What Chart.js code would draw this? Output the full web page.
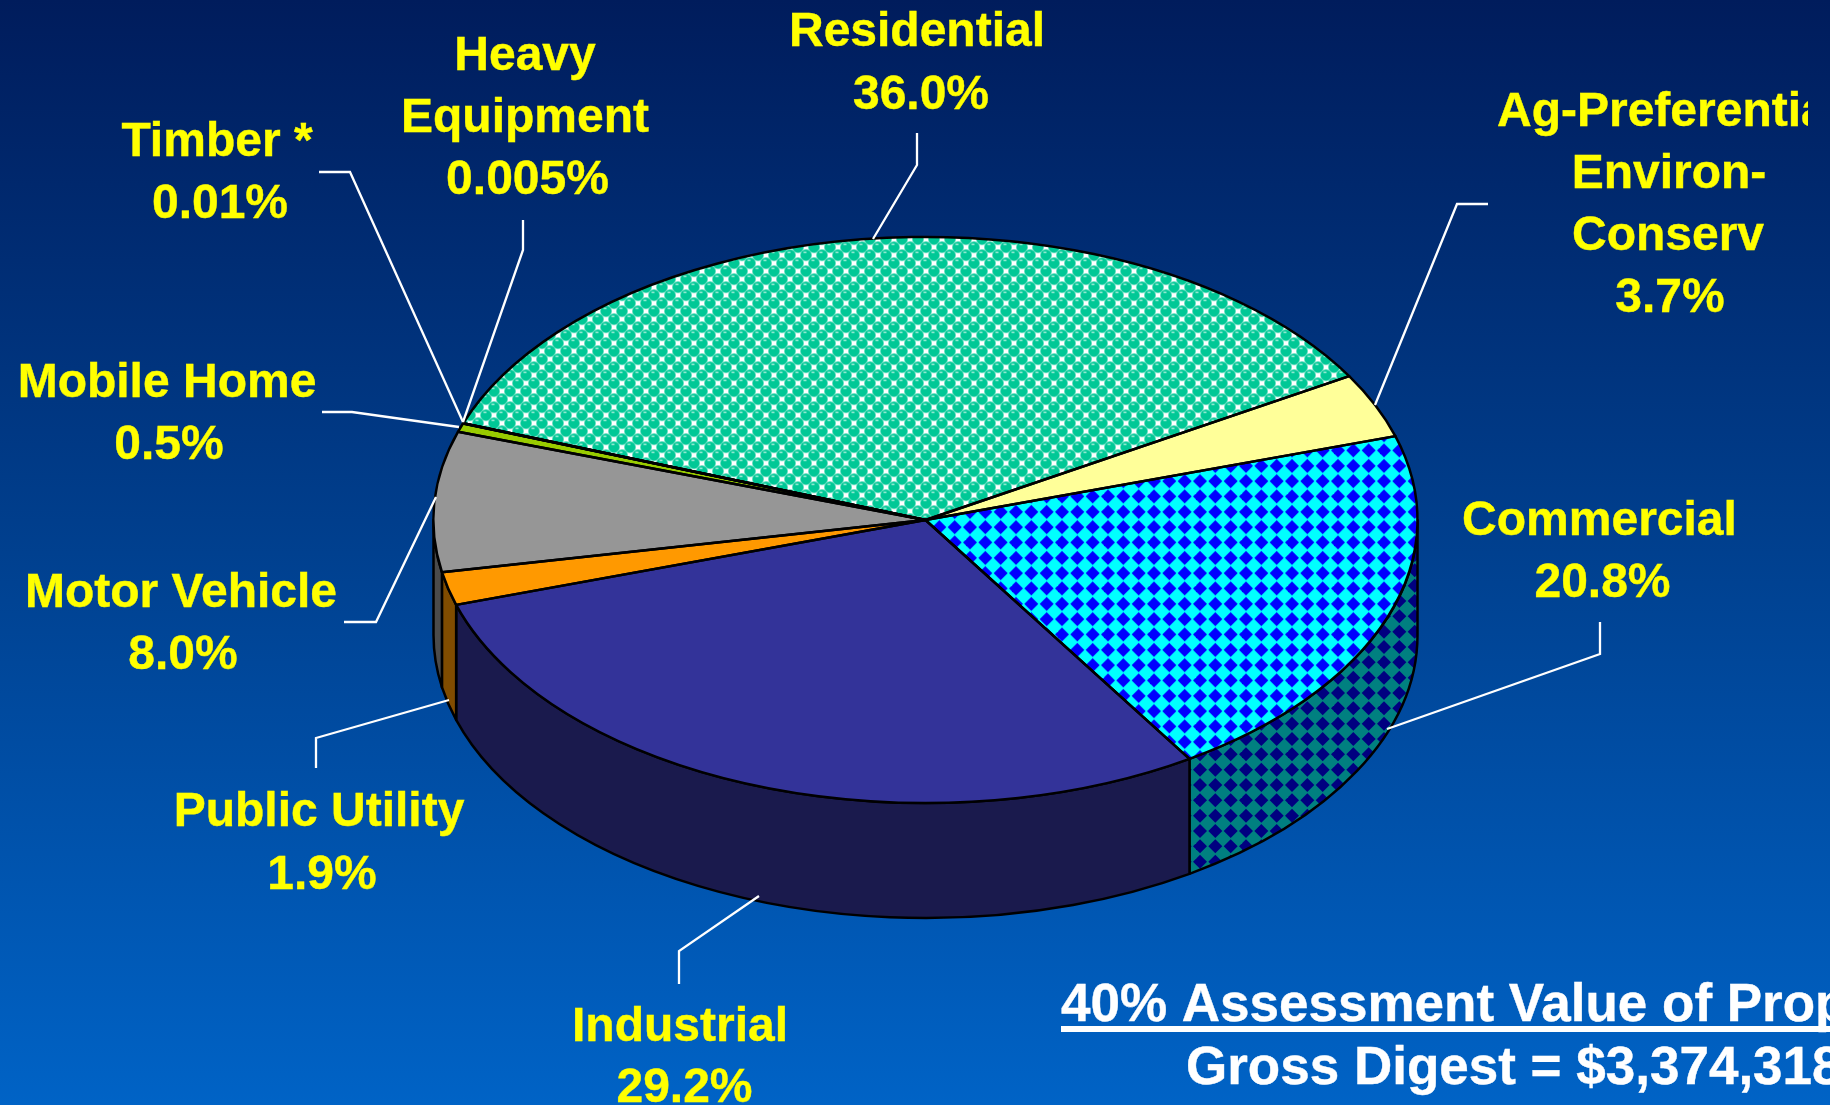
<!DOCTYPE html>
<html>
<head>
<meta charset="utf-8">
<style>html,body{margin:0;padding:0;background:#003f90}canvas{display:block}</style>
<script src="https://cdn.jsdelivr.net/npm/chart.js@4/dist/chart.umd.min.js"></script>
</head>
<body>
<canvas id="c" width="1830" height="1105"></canvas>
<script>
const categories = ['Residential','Ag-Preferential Environ-Conserv','Commercial','Industrial','Public Utility','Motor Vehicle','Mobile Home','Timber *','Heavy Equipment'];
const shareValues = [36.0,3.7,20.8,29.2,1.9,8.0,0.5,0.01,0.005];
const shareLabels = ['36.0%','3.7%','20.8%','29.2%','1.9%','8.0%','0.5%','0.01%','0.005%'];
const categoryLines = [['Residential'],['Ag-Preferential','Environ-','Conserv'],['Commercial'],['Industrial'],['Public Utility'],['Motor Vehicle'],['Mobile Home'],['Timber *'],['Heavy','Equipment']];
const footerTitle = '40% Assessment Value of Prop';
const footerDigest = 'Gross Digest = $3,374,318';

// layout
const W = 1830, H = 1105, CX = 925.5, CY = 520, RX = 492, RY = 283, DEPTH = 115, K = RY / RX;
const labelSpots = [
  [[917,45.5],[921,108.5]],
  [[null,125.5],[1669,187.5],[1668,249.5],[1670,311.5]],
  [[1599.5,534.5],[1602.5,596.5]],
  [[680,1040.5],[684.5,1101.5]],
  [[319,826],[322,889]],
  [[181,606.5],[183,668.5]],
  [[167,396.5],[169,458.5]],
  [[217,156],[220,218]],
  [[525,69.5],[525,131.5],[527.5,193.5]]
];
const leaderPaths = [
  [[917,133],[917,165],[873,239]],
  [[1488,204],[1457,204],[1375,405]],
  [[1600,622],[1600,654],[1387,729]],
  [[679,984],[679,951],[759,896]],
  [[316,768],[316,738],[449,700]],
  [[344,622],[376,622],[436,497]],
  [[322,412],[352,412],[459,427]],
  [[319,172],[350,172],[463,422]],
  [[523,220],[523,250],[463,422]]
];
const topColors = [null,'#FFFF99',null,'#333399','#FF9900','#969696','#99CC00','#6b6b6b','#808080'];
const wallColors = [null,'#80804c',null,'#1A1A4D','#804C00','#4B4B4B','#4c6600','#404040','#404040'];

function sphereTile(){
  const t = document.createElement('canvas'); t.width = 48; t.height = 48;
  const g = t.getContext('2d');
  g.fillStyle = '#ffffff'; g.fillRect(0,0,48,48);
  const p = 16;
  for (let r = -1; r < 8; r++) for (let c = -1; c < 5; c++) {
    const x = c*p + (r%2 ? p/2 : 0) + 6, y = r*p/2 + 5;
    g.fillStyle = '#66dec0'; g.beginPath(); g.arc(x,y,6.0,0,7); g.fill();
    g.fillStyle = '#00C896'; g.beginPath(); g.arc(x,y,5.2,0,7); g.fill();
    g.fillStyle = '#9cecd6'; g.fillRect(x-2.5,y-3.5,3,1.5);
  }
  return t;
}
function diamondTile(bg, fg){
  const t = document.createElement('canvas'); t.width = 46; t.height = 46;
  const g = t.getContext('2d');
  g.fillStyle = bg; g.fillRect(0,0,46,46);
  g.fillStyle = fg;
  const p = 46/3, d = 7.0;
  for (let r = -1; r < 5; r++) for (let c = -1; c < 5; c++) {
    const x = c*p + 4, y = r*p + 3;
    g.beginPath(); g.moveTo(x,y-d); g.lineTo(x+d,y); g.lineTo(x,y+d); g.lineTo(x-d,y); g.closePath(); g.fill();
  }
  return t;
}

const ctx = document.getElementById('c').getContext('2d');
const unsquash = new DOMMatrix().scale(1, 1/K);
const resTop = ctx.createPattern(sphereTile(),'repeat'); resTop.setTransform(unsquash);
const comTop = ctx.createPattern(diamondTile('#00FFFF','#0000FF'),'repeat'); comTop.setTransform(unsquash);
const comWall = ctx.createPattern(diamondTile('#008080','#000080'),'repeat');
const fills = topColors.slice(); fills[0] = resTop; fills[2] = comTop;
const wallFills = wallColors.slice(); wallFills[2] = comWall; wallFills[0] = '#007a5c';

const squashPie = {
  id:'squashPie',
  beforeDraw(chart){
    const c = chart.ctx, g = c.createLinearGradient(0,0,0,H);
    g.addColorStop(0,'#001C5C'); g.addColorStop(0.5,'#00408F'); g.addColorStop(1,'#0063C6');
    c.fillStyle = g; c.fillRect(0,0,W,H);
  },
  beforeDatasetsDraw(chart){
    const c = chart.ctx, arcs = chart.getDatasetMeta(0).data;
    c.lineWidth = 2.5; c.strokeStyle = '#000'; c.lineJoin = 'round';
    arcs.forEach((a,i)=>{
      const from = Math.max(a.startAngle,0), to = Math.min(a.endAngle,Math.PI);
      if (to <= from) return;
      c.beginPath();
      c.ellipse(CX,CY,a.outerRadius,a.outerRadius*K,0,from,to);
      c.lineTo(CX+a.outerRadius*Math.cos(to), CY+a.outerRadius*K*Math.sin(to)+DEPTH);
      c.ellipse(CX,CY+DEPTH,a.outerRadius,a.outerRadius*K,0,to,from,true);
      c.closePath();
      c.fillStyle = wallFills[i]; c.fill(); c.stroke();
    });
    const a0 = arcs[0];
    c.save();
    c.translate(CX,CY); c.scale(1,K); c.translate(-a0.x,-a0.y);
  },
  afterDatasetsDraw(chart){
    const c = chart.ctx, arcs = chart.getDatasetMeta(0).data;
    c.restore();
    c.lineWidth = 2.5; c.strokeStyle = '#000'; c.lineJoin = 'round';
    arcs.forEach(a=>{
      c.beginPath(); c.moveTo(CX,CY);
      c.ellipse(CX,CY,a.outerRadius,a.outerRadius*K,0,a.startAngle,a.endAngle);
      c.closePath(); c.stroke();
    });
  },
  afterDraw(chart){
    const c = chart.ctx;
    c.save();
    c.strokeStyle = '#fff'; c.lineWidth = 2.3; c.lineJoin = 'miter';
    leaderPaths.forEach(p=>{
      c.beginPath(); p.forEach((q,i)=> i ? c.lineTo(q[0],q[1]) : c.moveTo(q[0],q[1])); c.stroke();
    });
    c.fillStyle = '#FFFF00'; c.strokeStyle = '#FFFF00'; c.lineWidth = 0.4;
    c.font = 'bold 48px "Liberation Sans"'; c.textBaseline = 'alphabetic';
    categoryLines.forEach((lines,i)=>{
      const spots = labelSpots[i];
      lines.concat(shareLabels[i]).forEach((txt,j)=>{
        const s = spots[j];
        if (s[0] === null) {
          c.save(); c.beginPath(); c.rect(1490,70,318,80); c.clip();
          c.textAlign = 'left'; c.fillText(txt,1497,s[1]); c.strokeText(txt,1497,s[1]); c.restore();
        } else { c.textAlign = 'center'; c.fillText(txt,s[0],s[1]); c.strokeText(txt,s[0],s[1]); }
      });
    });
    c.fillStyle = '#fff'; c.strokeStyle = '#fff'; c.font = 'bold 53px "Liberation Sans"'; c.textAlign = 'left';
    c.fillText(footerTitle,1061,1021); c.strokeText(footerTitle,1061,1021);
    c.fillRect(1061,1026,W-1061,6);
    c.fillText(footerDigest,1186,1084); c.strokeText(footerDigest,1186,1084);
    c.restore();
  }
};

new Chart(ctx,{
  type:'pie',
  data:{labels:categories,datasets:[{data:shareValues,backgroundColor:fills,borderWidth:0,hoverOffset:0,clip:false}]},
  options:{
    responsive:false,animation:false,rotation:-70,
    layout:{padding:{left:CX-RX,right:W-CX-RX,top:(H-2*RX)/2,bottom:(H-2*RX)/2}},
    plugins:{legend:{display:false},tooltip:{enabled:false},title:{display:false}},
    events:[]
  },
  plugins:[squashPie]
});
</script>
</body>
</html>
